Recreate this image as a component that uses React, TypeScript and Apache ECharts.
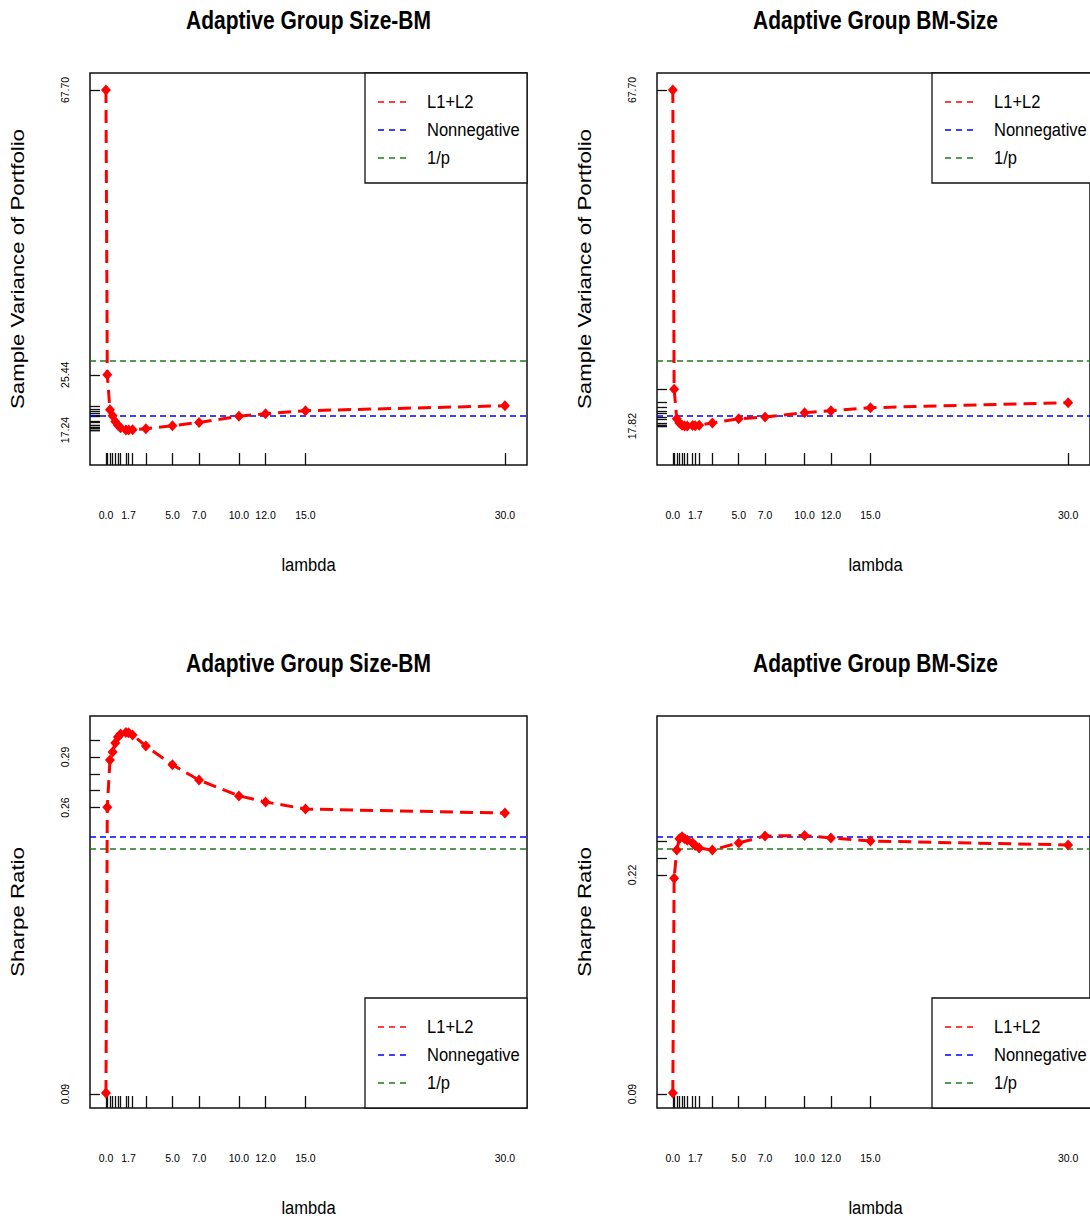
import React, { useEffect, useRef } from "react";
import * as echarts from "echarts";

// ---- data ----
const LAMBDA = [0, 0.1, 0.3, 0.5, 0.7, 0.9, 1.1, 1.5, 1.7, 2.0, 3.0, 5, 7, 10, 12, 15, 30];
const X_LABELS = [0, 1.7, 5, 7, 10, 12, 15, 30];

const VAR_SIZE_BM = [67.7, 25.44, 20.25, 19.36, 18.52, 17.95, 17.58, 17.24, 17.26, 17.28, 17.43, 17.88, 18.37, 19.29, 19.66, 20.1, 20.84];
const VAR_BM_SIZE = [67.7, 23.3, 18.9, 18.3, 17.95, 17.85, 17.82, 17.9, 17.88, 17.95, 18.3, 18.9, 19.17, 19.8, 20.1, 20.55, 21.3];
const SHARPE_SIZE_BM = [0.0906, 0.2601, 0.2882, 0.293, 0.2983, 0.3019, 0.3036, 0.3045, 0.3043, 0.3031, 0.2965, 0.2853, 0.2763, 0.2669, 0.2633, 0.2591, 0.2567];
const SHARPE_BM_SIZE = [0.0906, 0.218, 0.2348, 0.2415, 0.2427, 0.2415, 0.2405, 0.239, 0.2375, 0.236, 0.2348, 0.239, 0.2431, 0.2434, 0.2419, 0.2401, 0.2378];

const NONNEG_VAR = 19.36;
const EQUAL_VAR = 27.5;
const NONNEG_SHARPE = 0.2425;
const EQUAL_SHARPE = 0.2355;

const Y_LABELS_VAR_SIZE_BM = [17.24, 25.44, 67.7];
const Y_LABELS_VAR_BM_SIZE = [17.82, 67.7];
const Y_LABELS_SHARPE_SIZE_BM = [0.09, 0.26, 0.29];
const Y_LABELS_SHARPE_BM_SIZE = [0.09, 0.22];

const TITLES = ["Adaptive Group Size-BM", "Adaptive Group BM-Size", "Adaptive Group Size-BM", "Adaptive Group BM-Size"];
const Y_NAMES = ["Sample Variance of Portfolio", "Sample Variance of Portfolio", "Sharpe Ratio", "Sharpe Ratio"];
const X_NAME = "lambda";
const LEGEND_NAMES = ["L1+L2", "Nonnegative", "1/p"];

// ---- styles ----
const RED = "#ff0000";
const BLUE = "#0000ff";
const GREEN = "#1f7a1f";
const FONT = "'Liberation Sans', Arial, sans-serif";

const roundedTicks = (arr: number[]) =>
  Array.from(new Set(arr.map((v) => Math.round(v * 100) / 100)));

export default function App() {
  const ref = useRef<HTMLDivElement>(null);

  useEffect(() => {
    if (!ref.current) return;
    const chart = echarts.init(ref.current, null, { renderer: "svg" });

    const panels = [
      { left: 90, top: 73, data: VAR_SIZE_BM, labels: Y_LABELS_VAR_SIZE_BM, nn: NONNEG_VAR, eq: EQUAL_VAR, ymin: 12.05, ymax: 70.22, legendTop: true },
      { left: 657, top: 73, data: VAR_BM_SIZE, labels: Y_LABELS_VAR_BM_SIZE, nn: NONNEG_VAR, eq: EQUAL_VAR, ymin: 12.05, ymax: 70.22, legendTop: true },
      { left: 90, top: 716, data: SHARPE_SIZE_BM, labels: Y_LABELS_SHARPE_SIZE_BM, nn: NONNEG_SHARPE, eq: EQUAL_SHARPE, ymin: 0.0817, ymax: 0.3143, legendTop: false },
      { left: 657, top: 716, data: SHARPE_BM_SIZE, labels: Y_LABELS_SHARPE_BM_SIZE, nn: NONNEG_SHARPE, eq: EQUAL_SHARPE, ymin: 0.0817, ymax: 0.3143, legendTop: false },
    ];
    const W = 437;
    const H = 392;

    const grid: any[] = [];
    const xAxis: any[] = [];
    const yAxis: any[] = [];
    const series: any[] = [];
    const graphic: any[] = [];

    panels.forEach((p, i) => {
      grid.push({
        left: p.left,
        top: p.top,
        width: W,
        height: H,
        show: true,
        borderColor: "#111",
        borderWidth: 1.5,
        backgroundColor: "transparent",
      });
      xAxis.push({
        type: "value",
        gridIndex: i,
        min: -1.2,
        max: 31.66,
        axisLine: { show: false, onZero: false },
        splitLine: { show: false },
        axisTick: {
          show: true,
          inside: true,
          length: 12,
          customValues: LAMBDA,
          lineStyle: { color: "#111", width: 1.3 },
        },
        axisLabel: {
          show: true,
          margin: 44,
          customValues: X_LABELS,
          formatter: (v: number) => v.toFixed(1),
          fontFamily: FONT,
          fontSize: 10.5,
          color: "#000",
        },
      });
      yAxis.push({
        type: "value",
        gridIndex: i,
        min: p.ymin,
        max: p.ymax,
        axisLine: { show: false, onZero: false },
        splitLine: { show: false },
        axisTick: {
          show: true,
          inside: true,
          length: 10,
          customValues: roundedTicks(p.data),
          lineStyle: { color: "#111", width: 1.3 },
        },
        axisLabel: {
          show: true,
          rotate: 90,
          margin: 20,
          customValues: p.labels,
          formatter: (v: number) => v.toFixed(2),
          fontFamily: FONT,
          fontSize: 10.5,
          color: "#000",
        },
      });
      series.push({
        type: "line",
        xAxisIndex: i,
        yAxisIndex: i,
        data: LAMBDA.map((l, k) => [l, p.data[k]]),
        symbol: "diamond",
        symbolSize: [10, 11],
        itemStyle: { color: RED },
        lineStyle: { color: RED, width: 3, type: [13, 7] },
        z: 3,
        markLine: {
          silent: true,
          precision: 6,
          symbol: ["none", "none"],
          label: { show: false },
          z: 2,
          data: [
            { yAxis: p.nn, lineStyle: { color: BLUE, width: 1.5, type: [6, 4] } },
            { yAxis: p.eq, lineStyle: { color: GREEN, width: 1.5, type: [6, 4] } },
          ],
        },
      });

      // title
      graphic.push({
        type: "text",
        x: p.left + W / 2,
        y: p.top - 53,
        scaleX: 0.84,
        style: {
          text: TITLES[i],
          fontFamily: FONT,
          fontWeight: "bold",
          fontSize: 25,
          fill: "#000",
          textAlign: "center",
          textVerticalAlign: "middle",
        },
      });

      // x axis name
      graphic.push({
        type: "text",
        x: p.left + W / 2,
        y: p.top + H + 100,
        scaleX: 0.87,
        style: {
          text: X_NAME,
          fontFamily: FONT,
          fontSize: 19,
          fill: "#000",
          textAlign: "center",
          textVerticalAlign: "middle",
        },
      });

      // y axis name (rotated, stretched along its length)
      graphic.push({
        type: "text",
        x: p.left - 72,
        y: p.top + H / 2,
        rotation: Math.PI / 2,
        scaleX: 1.235,
        style: {
          text: Y_NAMES[i],
          fontFamily: FONT,
          fontSize: 18,
          fill: "#000",
          textAlign: "center",
          textVerticalAlign: "middle",
        },
      });

      // legend
      const bw = 162;
      const bh = 110;
      const bx = p.left + W - bw;
      const by = p.legendTop ? p.top : p.top + H - bh;
      graphic.push({
        type: "rect",
        shape: { x: bx, y: by, width: bw, height: bh },
        style: { fill: "#fff", stroke: "#111", lineWidth: 1.3 },
        z: 10,
      });
      const colors = [RED, BLUE, GREEN];
      LEGEND_NAMES.forEach((name, k) => {
        const ry = by + 29 + k * 28;
        graphic.push({
          type: "line",
          shape: { x1: bx + 13, y1: ry, x2: bx + 46, y2: ry },
          style: { stroke: colors[k], lineWidth: 1.5, lineDash: [6, 5] },
          z: 11,
        });
        graphic.push({
          type: "text",
          x: bx + 62,
          y: ry,
          scaleX: 0.87,
          style: {
            text: name,
            fontFamily: FONT,
            fontSize: 19,
            fill: "#000",
            textAlign: "left",
            textVerticalAlign: "middle",
          },
          z: 11,
        });
      });
    });

    chart.setOption({
      animation: false,
      backgroundColor: "#fff",
      grid,
      xAxis,
      yAxis,
      series,
      graphic,
    });

    return () => chart.dispose();
  }, []);

  return (
    <div
      ref={ref}
      style={{ position: "absolute", left: 0, top: 0, width: 1090, height: 1220 }}
    />
  );
}
